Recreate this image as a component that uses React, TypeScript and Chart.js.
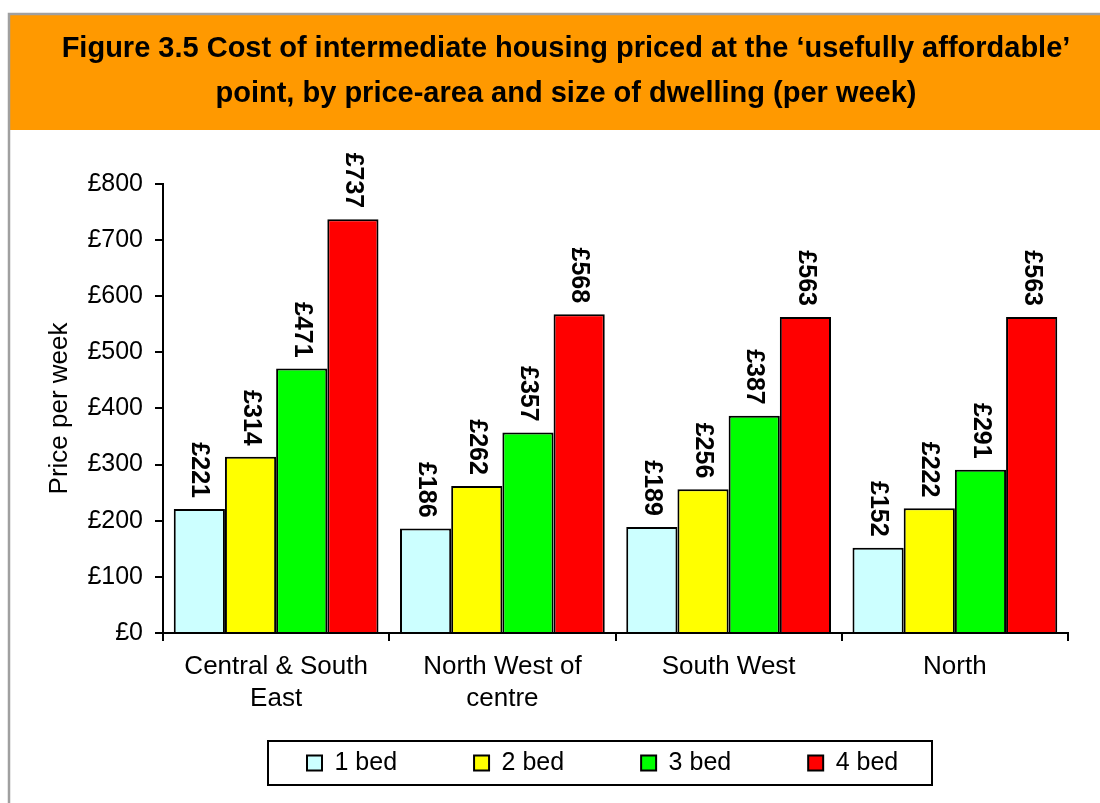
import React, { useEffect, useRef } from "react";
import { Chart, registerables } from "chart.js";

Chart.register(...registerables);

const categories: (string | string[])[] = [
  ["Central & South", "East"],
  ["North West of", "centre"],
  "South West",
  "North",
];
const seriesNames = ["1 bed", "2 bed", "3 bed", "4 bed"];
const oneBed = [221, 186, 189, 152];
const twoBed = [314, 262, 256, 222];
const threeBed = [471, 357, 387, 291];
const fourBed = [737, 568, 563, 563];
const seriesColors = ["#CCFFFF", "#FFFF00", "#00FF00", "#FF0000"];
const yTicks = [0, 100, 200, 300, 400, 500, 600, 700, 800];
const titleLines = [
  "Figure 3.5 Cost of intermediate housing priced at the \u2018usefully affordable\u2019",
  "point, by price-area and size of dwelling (per week)",
];

const FONT = "'Liberation Sans', Arial, sans-serif";

const framePlugin = {
  id: "frame",
  beforeDraw(chart: any) {
    const ctx = chart.ctx;
    ctx.save();
    ctx.fillStyle = "#FFFFFF";
    ctx.fillRect(0, 0, chart.width, chart.height);
    ctx.fillStyle = "#FF9900";
    ctx.fillRect(10, 15, chart.width - 10, 115);
    ctx.strokeStyle = "#A0A0A0";
    ctx.lineWidth = 2.5;
    ctx.beginPath();
    ctx.moveTo(9, chart.height);
    ctx.lineTo(9, 14);
    ctx.lineTo(chart.width, 14);
    ctx.stroke();
    ctx.restore();
    const legend = chart.legend;
    if (legend) {
      legend.left = 230;
      legend.right = 1100;
      legend.top = 673.5;
    }
    const title = chart.titleBlock;
    if (title) {
      title.left = 32;
      title.right = 1100;
    }
  },
  afterDraw(chart: any) {
    const ctx = chart.ctx;
    ctx.save();
    ctx.strokeStyle = "#000000";
    ctx.lineWidth = 2;
    ctx.strokeRect(268, 741, 664, 44);
    ctx.restore();
  },
};

const valueLabelPlugin = {
  id: "valueLabels",
  afterDatasetsDraw(chart: any) {
    const ctx = chart.ctx;
    ctx.save();
    ctx.font = `bold 25px ${FONT}`;
    ctx.fillStyle = "#000000";
    ctx.textAlign = "right";
    ctx.textBaseline = "middle";
    chart.data.datasets.forEach((ds: any, di: number) => {
      const meta = chart.getDatasetMeta(di);
      meta.data.forEach((el: any, i: number) => {
        ctx.save();
        ctx.translate(el.x, el.y - 11);
        ctx.rotate(Math.PI / 2);
        ctx.fillText("\u00A3" + ds.data[i], 0, 0);
        ctx.restore();
      });
    });
    ctx.restore();
  },
};

export default function App() {
  const canvasRef = useRef<HTMLCanvasElement | null>(null);

  useEffect(() => {
    if (!canvasRef.current) return;
    const values = [oneBed, twoBed, threeBed, fourBed];
    const chart = new Chart(canvasRef.current, {
      type: "bar",
      data: {
        labels: categories,
        datasets: seriesNames.map((name, i) => ({
          label: name,
          data: values[i],
          backgroundColor: seriesColors[i],
          borderColor: "#000000",
          borderWidth: 2,
          categoryPercentage: 0.905,
          barPercentage: 1.0,
        })),
      },
      options: {
        responsive: false,
        animation: false,
        layout: { padding: { top: 15, right: 32, bottom: 0, left: 0 } },
        plugins: {
          title: {
            display: true,
            text: titleLines,
            color: "#000000",
            font: { family: FONT, size: 29, weight: "bold", lineHeight: 1.55 },
            padding: { top: 12, bottom: 67 },
          },
          legend: {
            display: true,
            position: "bottom",
            align: "start",
            maxHeight: 70,
            labels: {
              boxWidth: 15,
              boxHeight: 15,
              padding: 77,
              color: "#000000",
              font: { family: FONT, size: 25 },
            },
          },
          tooltip: { enabled: false },
        },
        scales: {
          x: {
            offset: true,
            afterFit(scale: any) {
              scale.height = 100;
            },
            grid: {
              offset: true,
              drawOnChartArea: false,
              drawTicks: true,
              tickLength: 8,
              color: "#000000",
              lineWidth: 2,
            },
            border: { color: "#000000", width: 2 },
            ticks: {
              color: "#000000",
              font: { family: FONT, size: 26, lineHeight: 1.23 },
              padding: 10,
              maxRotation: 0,
              autoSkip: false,
            },
          },
          y: {
            min: 0,
            max: 800,
            afterFit(scale: any) {
              scale.width = 163;
            },
            afterBuildTicks(scale: any) {
              scale.ticks = yTicks.map((v) => ({ value: v }));
            },
            grid: {
              drawOnChartArea: false,
              drawTicks: true,
              tickLength: 8,
              color: "#000000",
              lineWidth: 2,
            },
            border: { color: "#000000", width: 2 },
            ticks: {
              color: "#000000",
              font: { family: FONT, size: 25 },
              padding: 12,
              callback: (v: any) => "\u00A3" + v,
            },
            title: {
              display: true,
              text: "Price per week",
              color: "#000000",
              font: { family: FONT, size: 26 },
              padding: { top: 44, bottom: 0 },
            },
          },
        },
      },
      plugins: [framePlugin, valueLabelPlugin],
    } as any);
    return () => chart.destroy();
  }, []);

  return (
    <div style={{ position: "absolute", left: 0, top: 0, width: 1100, height: 803 }}>
      <canvas ref={canvasRef} width={1100} height={803} style={{ display: "block" }} />
    </div>
  );
}
